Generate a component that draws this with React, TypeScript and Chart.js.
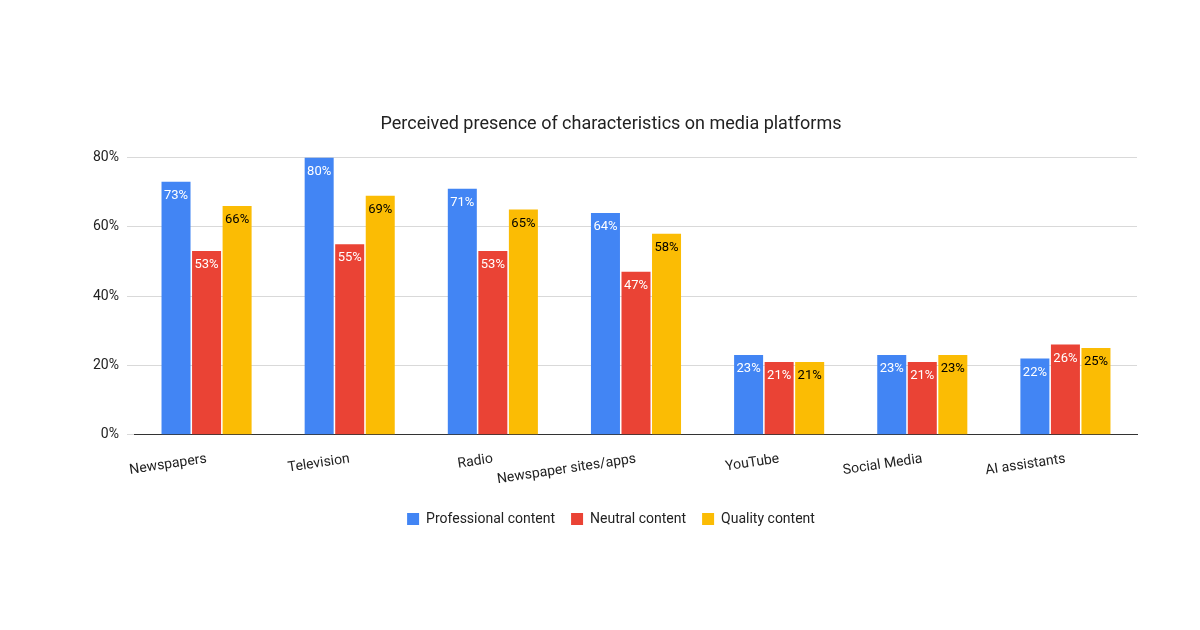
import React, { useEffect, useRef } from "react";
import { Chart, registerables } from "chart.js";
Chart.register(...registerables);

const categories = ["Newspapers", "Television", "Radio", "Newspaper sites/apps", "YouTube", "Social Media", "AI assistants"];
const professional = [73, 80, 71, 64, 23, 23, 22];
const neutral = [53, 55, 53, 47, 21, 21, 26];
const quality = [66, 69, 65, 58, 21, 23, 25];
const yTicks = [0, 20, 40, 60, 80];

const labelPlugin = {
  id: "barLabels",
  afterDatasetsDraw(chart: any) {
    const ctx = chart.ctx;
    ctx.save();
    ctx.font = "13px Roboto, Arial, sans-serif";
    ctx.textAlign = "center";
    ctx.textBaseline = "middle";
    chart.data.datasets.forEach((ds: any, i: number) => {
      const meta = chart.getDatasetMeta(i);
      meta.data.forEach((bar: any, j: number) => {
        ctx.fillStyle = i === 2 ? "#000000" : "#ffffff";
        ctx.fillText(ds.data[j] + "%", bar.x, bar.y + 14);
      });
    });
    ctx.restore();
  },
};

export default function App() {
  const ref = useRef<HTMLCanvasElement>(null);
  useEffect(() => {
    document.body.style.margin = "0";
    const chart = new Chart(ref.current!, {
      type: "bar",
      data: {
        labels: categories,
        datasets: [
          { label: "Professional content", data: professional, backgroundColor: "#4285F4" },
          { label: "Neutral content", data: neutral, backgroundColor: "#EA4335" },
          { label: "Quality content", data: quality, backgroundColor: "#FBBC04" },
        ],
      },
      options: {
        animation: false,
        responsive: false,
        layout: { padding: { top: 114, bottom: 94, left: 85, right: 63 } },
        datasets: { bar: { barPercentage: 0.95, categoryPercentage: 0.64 } } as any,
        plugins: {
          title: {
            display: true,
            text: "Perceived presence of characteristics on media platforms",
            color: "#222",
            font: { size: 18, family: "Roboto, Arial, sans-serif", weight: "normal" as any },
            padding: { bottom: 22 },
          },
          legend: {
            position: "bottom",
            labels: { boxWidth: 12, boxHeight: 12, color: "#222", padding: 16, font: { size: 14, family: "Roboto, Arial, sans-serif" } },
          },
          tooltip: { enabled: false },
        },
        scales: {
          x: {
            grid: { display: false },
            border: { color: "#333" },
            ticks: { color: "#222", padding: 8, font: { size: 14, family: "Roboto, Arial, sans-serif" } },
          },
          y: {
            min: 0,
            max: 80,
            afterBuildTicks: (axis: any) => { axis.ticks = yTicks.map((v) => ({ value: v })); },
            grid: { color: "#d9d9d9" },
            border: { display: false },
            ticks: { color: "#222", padding: 8, font: { size: 14, family: "Roboto, Arial, sans-serif" }, callback: (v: any) => v + "%" },
          },
        },
      },
      plugins: [labelPlugin],
    });
    return () => chart.destroy();
  }, []);
  return <canvas ref={ref} width={1200} height={630} style={{ display: "block" }} />;
}
